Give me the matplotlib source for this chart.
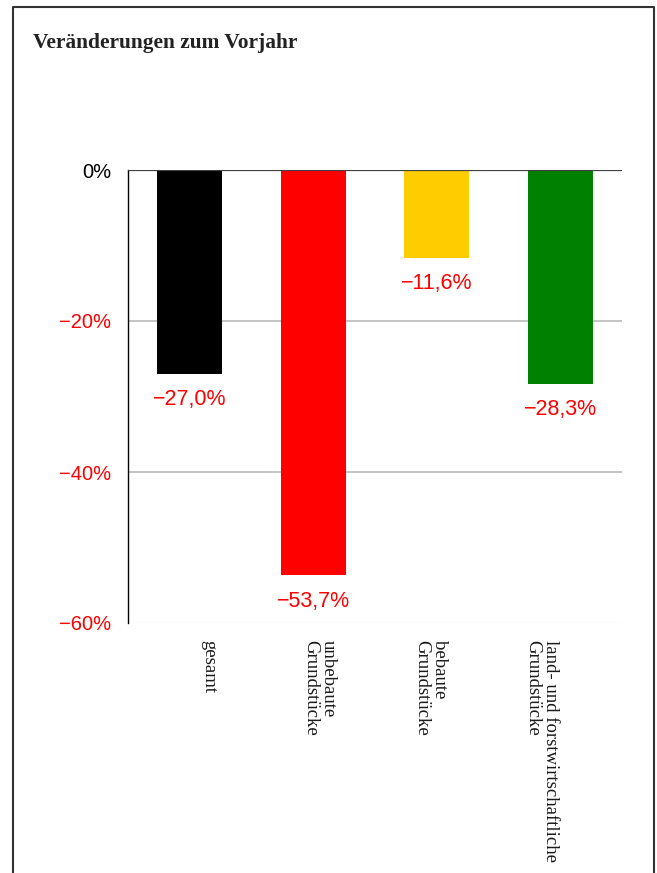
import matplotlib.pyplot as plt
from matplotlib.lines import Line2D

categories = ['gesamt', 'unbebaute\nGrundstücke', 'bebaute\nGrundstücke',
              'land- und forstwirtschaftliche\nGrundstücke']
values = [-27.0, -53.7, -11.6, -28.3]
value_labels = ['\u221227,0%', '\u221253,7%', '\u221211,6%', '\u221228,3%']
colors = ['#000000', '#ff0000', '#ffcc00', '#008000']
yticks = [0, -20, -40, -60]
ytick_labels = ['0%', '\u221220%', '\u221240%', '\u221260%']

W, H = 657, 873
fig = plt.figure(figsize=(W / 100, H / 100), dpi=100)
ax = fig.add_axes([128 / W, 1 - 623 / H, (622 - 128) / W, (623 - 170) / H])

x = range(len(values))
ax.bar(x, values, width=0.53, color=colors, zorder=3)
ax.set_xlim(-0.5, 3.5)
ax.set_ylim(-60, 0)

for yv in (-20, -40):
    ax.axhline(yv, color='#bfbfbf', lw=1.3, zorder=1)
ax.axhline(-60, color='#f0f0f0', lw=1, zorder=1)
ax.axhline(0, color='#404040', lw=1.6, zorder=4)

for s in ('top', 'right', 'bottom'):
    ax.spines[s].set_visible(False)
ax.spines['left'].set_color('black')
ax.spines['left'].set_linewidth(1)

ax.set_yticks(yticks)
ax.set_yticklabels(ytick_labels, fontsize=14.5, family='Liberation Sans')
for lbl in ax.get_yticklabels()[1:]:
    lbl.set_color('#ff0000')
ax.tick_params(axis='y', length=0, pad=12)
ax.set_xticks([])

for i, (v, t) in enumerate(zip(values, value_labels)):
    ax.annotate(t, (i, v), xytext=(0, -11), textcoords='offset points',
                ha='center', va='top', fontsize=15.5, color='#ff0000',
                family='Liberation Sans')

# category labels, rotated, reading top to bottom
label_x = [1.5 + (i - 1.5) * 0.9 for i in range(len(categories))]
for lx, c in zip(label_x, categories):
    ax.text(lx, -62.3, c, rotation=-90, ha='center', va='top',
            multialignment='left', fontsize=13.5, family='Liberation Serif',
            color='#1a1a1a', linespacing=1.05)

fig.text(33 / W, 1 - 43 / H, 'Veränderungen zum Vorjahr', fontsize=15.4,
         fontweight='bold', family='Liberation Serif', color='#222222',
         va='center', ha='left')

# frame (open at the bottom)
fx0, fx1, fy = 13 / W, 654 / W, 1 - 7 / H
fig.add_artist(Line2D([fx0, fx0, fx1, fx1], [0, fy, fy, 0],
                      transform=fig.transFigure, color='#333333', lw=1.5))

plt.savefig('out.png', dpi=100)
